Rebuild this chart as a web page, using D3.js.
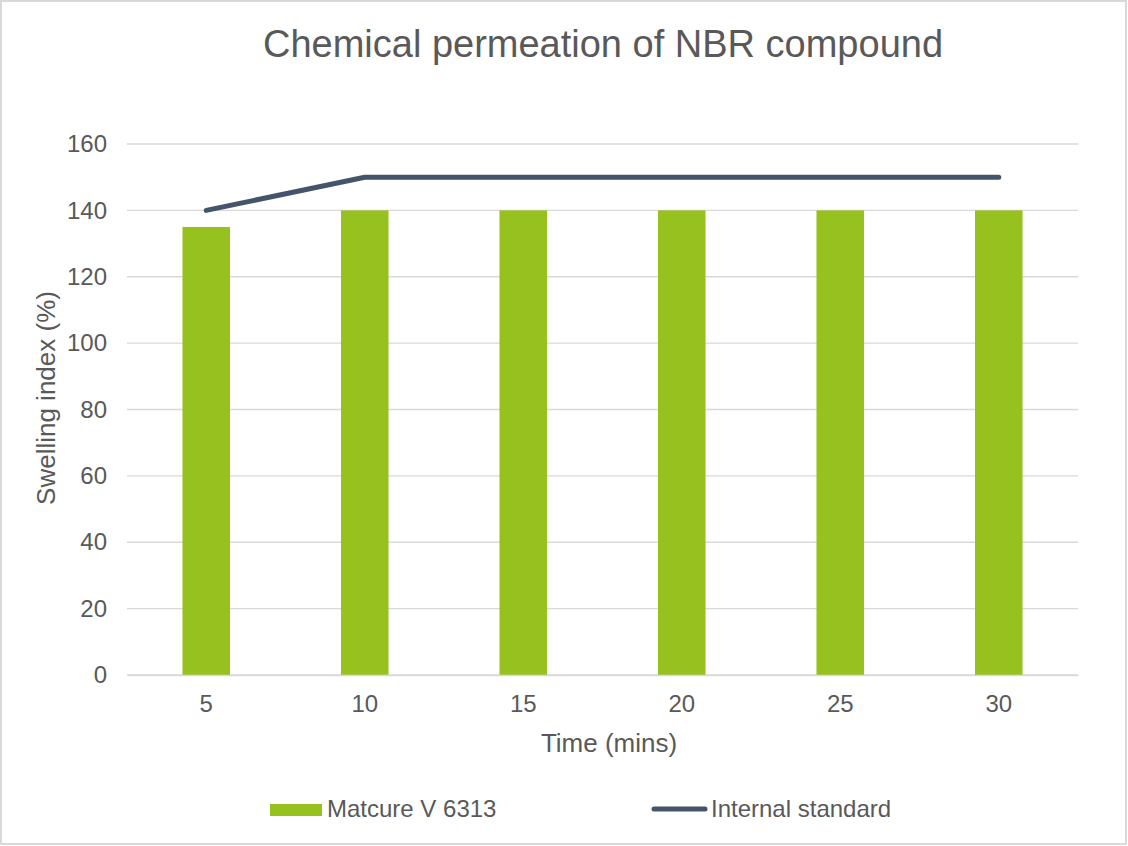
<!DOCTYPE html>
<html>
<head>
<meta charset="utf-8">
<script src="https://cdn.jsdelivr.net/npm/d3@7"></script>
<style>
  body { margin: 0; background: #fff; }
  text { font-family: "Liberation Sans", Arial, sans-serif; fill: #595959; }
</style>
</head>
<body>
<div id="chart"></div>
<script>
const categories = ["5", "10", "15", "20", "25", "30"];
const matcure = [135, 140, 140, 140, 140, 140];
const internalStandard = [140, 150, 150, 150, 150, 150];
const yTicks = [0, 20, 40, 60, 80, 100, 120, 140, 160];

const W = 1128, H = 846;
const margin = {top: 144, right: 50, bottom: 171, left: 127};
const width = W - margin.left - margin.right;
const height = H - margin.top - margin.bottom;

const svg = d3.select("#chart").append("svg")
    .attr("width", W)
    .attr("height", H);

svg.append("rect")
    .attr("x", 1).attr("y", 1)
    .attr("width", W - 3).attr("height", H - 3)
    .attr("fill", "#fff")
    .attr("stroke", "#d9d9d9")
    .attr("stroke-width", 2);

svg.append("text")
    .attr("x", 603).attr("y", 57)
    .attr("text-anchor", "middle")
    .attr("font-size", 38)
    .text("Chemical permeation of NBR compound");

const g = svg.append("g")
    .attr("transform", `translate(${margin.left},${margin.top})`);

const x = d3.scaleBand().domain(categories).range([0, width]);
const y = d3.scaleLinear().domain([0, 160]).range([height, 0]);

// gridlines
g.selectAll(".grid")
    .data(yTicks)
    .enter().append("line")
    .attr("x1", 0).attr("x2", width)
    .attr("y1", d => y(d)).attr("y2", d => y(d))
    .attr("stroke", "#d9d9d9")
    .attr("stroke-width", 1.3);

// y axis labels
const yAxis = g.append("g")
    .call(d3.axisLeft(y).tickValues(yTicks).tickSize(0).tickPadding(20));
yAxis.select(".domain").remove();
yAxis.selectAll("text").attr("font-size", 24).attr("fill", "#595959");

// bars
const barW = x.bandwidth() * 0.3;
g.selectAll(".bar")
    .data(categories.map((c, i) => ({key: c, value: matcure[i]})))
    .enter().append("rect")
    .attr("class", "bar")
    .attr("x", d => x(d.key) + (x.bandwidth() - barW) / 2)
    .attr("width", barW)
    .attr("y", d => y(d.value))
    .attr("height", d => height - y(d.value))
    .attr("fill", "#97c11f");

// x axis
const xAxis = g.append("g")
    .attr("transform", `translate(0,${height})`)
    .call(d3.axisBottom(x).tickSize(0).tickPadding(20));
xAxis.select(".domain").attr("stroke", "#d9d9d9").attr("stroke-width", 1.5);
xAxis.selectAll("text").attr("font-size", 24).attr("fill", "#595959");

// line
const line = d3.line()
    .x((d, i) => x(categories[i]) + x.bandwidth() / 2)
    .y(d => y(d));
g.append("path")
    .datum(internalStandard)
    .attr("d", line)
    .attr("fill", "none")
    .attr("stroke", "#44546a")
    .attr("stroke-width", 5)
    .attr("stroke-linecap", "round")
    .attr("stroke-linejoin", "round");

// axis titles
svg.append("text")
    .attr("x", 609).attr("y", 752)
    .attr("text-anchor", "middle")
    .attr("font-size", 26)
    .text("Time (mins)");

svg.append("text")
    .attr("transform", "translate(55,398) rotate(-90)")
    .attr("text-anchor", "middle")
    .attr("font-size", 26)
    .text("Swelling index (%)");

// legend
const legend = svg.append("g");
legend.append("rect")
    .attr("x", 270).attr("y", 804)
    .attr("width", 52).attr("height", 12)
    .attr("fill", "#97c11f");
legend.append("text")
    .attr("x", 327).attr("y", 817)
    .attr("font-size", 24)
    .text("Matcure V 6313");
legend.append("line")
    .attr("x1", 654).attr("x2", 705)
    .attr("y1", 809).attr("y2", 809)
    .attr("stroke", "#44546a")
    .attr("stroke-width", 5)
    .attr("stroke-linecap", "round");
legend.append("text")
    .attr("x", 711).attr("y", 817)
    .attr("font-size", 24)
    .text("Internal standard");
</script>
</body>
</html>
